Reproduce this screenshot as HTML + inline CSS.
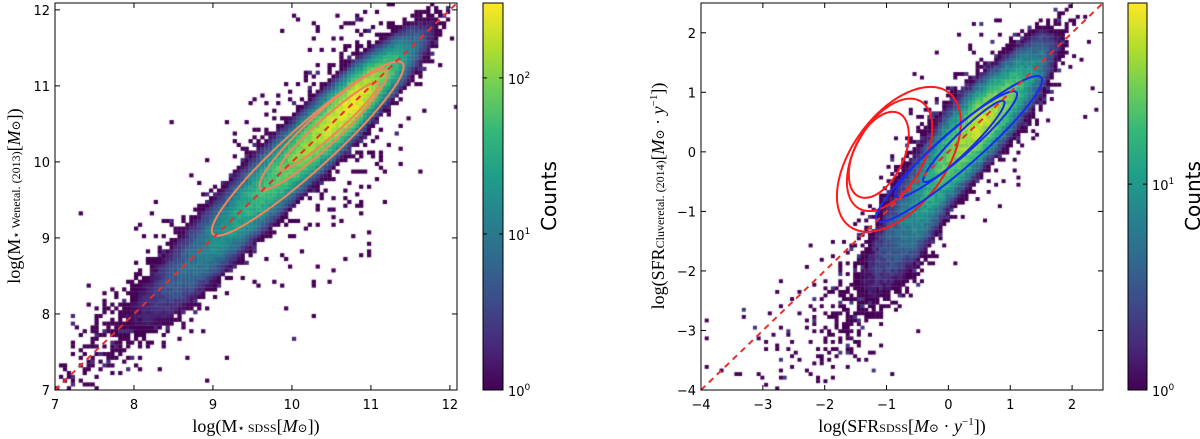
<!DOCTYPE html>
<html><head><meta charset="utf-8">
<style>
body{margin:0;background:#fff;width:1200px;height:439px;overflow:hidden;position:relative;font-family:"DejaVu Sans","Liberation Sans",sans-serif}
canvas,svg{position:absolute;left:0;top:0}
</style></head><body>
<canvas id="cv" width="1200" height="439"></canvas>
<svg id="sv" width="1200" height="439"></svg>
<script>
// ---- Left panel data ----
const leftRidgeX=[6.8,7,7.5,8,8.5,9,9.5,10,10.5,10.8,11,11.3,11.6,12,12.3];
const leftRidgeC=[6.8,7,7.5,8,8.45,8.95,9.5,10.0,10.5,10.8,11.0,11.28,11.55,11.9,12.2];
const leftRidgeLogA=[-1.5,-0.9,-0.4,0.1,0.7,1.2,1.6,1.95,2.3,2.45,2.25,1.7,0.8,-0.6,-2];
const leftRidgeS=[0.35,0.35,0.33,0.3,0.27,0.24,0.22,0.2,0.18,0.17,0.16,0.16,0.17,0.2,0.2];
const leftContours=[[9.0,9.05,11.4,11.3,0.28],[9.6,9.65,11.2,11.2,0.2],[9.85,9.9,11.1,11.05,0.12]];
// ---- Right panel data ----
const rightRidgeX=[-4,-3,-2,-1.5,-1,-0.5,0,0.5,1,1.5,2,2.5];
const rightRidgeC=[-4,-3.6,-3.0,-2.4,-1.6,-0.9,-0.1,0.45,0.95,1.5,2.0,2.4];
const rightRidgeLogA=[-2,-1.2,-0.5,-0.1,0.5,1.0,1.45,1.75,1.45,0.8,-0.4,-2];
const rightRidgeS=[0.5,0.5,0.5,0.5,0.5,0.45,0.35,0.3,0.3,0.3,0.3,0.3];
const redContours=[[-1.6,-1.25,0.0,1.0,0.75],[-1.45,-0.95,-0.45,0.85,0.55],[-1.45,-0.75,-0.8,0.65,0.4]];
const blueContours=[[-1.15,-1.15,1.5,1.25,0.3],[-0.85,-0.75,1.1,1.0,0.22],[-0.4,-0.5,0.9,0.85,0.15]];
const leftTicks=["7","8","9","10","11","12"];
const rightXTicks=["−4","−3","−2","−1","0","1","2"];
const rightYTicks=["−4","−3","−2","−1","0","1","2"];

const P={
 L:{x0:55,x1:457,y0:3,y1:390,xmin:7,xmax:12.09,ymin:7,ymax:12.09,cb:[483,503],cbMax:2.48,bin:0.05},
 R:{x0:701,x1:1103,y0:3,y1:390,xmin:-4,xmax:2.5,ymin:-4,ymax:2.5,cb:[1128,1147],cbMax:1.88,bin:0.06}
};
function sx(p,v){return p.x0+(v-p.xmin)/(p.xmax-p.xmin)*(p.x1-p.x0);}
function sy(p,v){return p.y1-(v-p.ymin)/(p.ymax-p.ymin)*(p.y1-p.y0);}
function interp(xs,ys,x){if(x<=xs[0])return ys[0];for(let i=1;i<xs.length;i++)if(x<=xs[i]){const t=(x-xs[i-1])/(xs[i]-xs[i-1]);return ys[i-1]+t*(ys[i]-ys[i-1]);}return ys[ys.length-1];}
const VS=[[68,1,84],[72,40,120],[62,74,137],[49,104,142],[38,130,142],[31,158,137],[53,183,121],[109,205,89],[180,222,44],[253,231,37]];
function vir(t){t=Math.max(0,Math.min(1,t))*9;const i=Math.min(8,Math.floor(t)),f=t-i;const a=VS[i],b=VS[i+1];return `rgb(${Math.round(a[0]+(b[0]-a[0])*f)},${Math.round(a[1]+(b[1]-a[1])*f)},${Math.round(a[2]+(b[2]-a[2])*f)})`;}
function hash(i,j,k){let h=(i*374761393+j*668265263+k*2147483647)|0;h=(h^(h>>>13))*1274126177|0;h^=h>>>16;return (h>>>0)/4294967296;}
const ctx=document.getElementById('cv').getContext('2d');
function drawHist(p,RX,RC,RA,RS,seed,broad){
 const b=p.bin;
 for(let x=p.xmin;x<p.xmax;x+=b){for(let y=p.ymin;y<p.ymax;y+=b){
  const xc=x+b/2,yc=y+b/2;const c=interp(RX,RC,xc),s=interp(RX,RS,xc),A=Math.pow(10,interp(RX,RA,xc));
  const d=yc-c;let lam=A*Math.exp(-d*d/(2*s*s))+broad*Math.sqrt(A+0.5)*Math.exp(-d*d/(2*0.9*0.9));
  const i=Math.round(x/b*7)+1000,j=Math.round(y/b*7)+1000;const r=hash(i,j,seed);let cnt;
  if(lam<1){if(r<lam)cnt=1+(hash(i,j,seed+1)<0.15?1:0);else continue;}
  else{cnt=lam*(0.75+0.5*r);if(cnt<1)cnt=1;}
  ctx.fillStyle=vir(Math.log10(cnt)/p.cbMax);
  const px0=sx(p,x),px1=sx(p,x+b),py0=sy(p,y+b),py1=sy(p,y);
  ctx.fillRect(px0,py0,px1-px0+0.3,py1-py0+0.3);
 }}
}
ctx.save();ctx.beginPath();ctx.rect(P.L.x0,P.L.y0,P.L.x1-P.L.x0,P.L.y1-P.L.y0);ctx.clip();
drawHist(P.L,leftRidgeX,leftRidgeC,leftRidgeLogA,leftRidgeS,11,0.02);ctx.restore();
ctx.save();ctx.beginPath();ctx.rect(P.R.x0,P.R.y0,P.R.x1-P.R.x0,P.R.y1-P.R.y0);ctx.clip();
drawHist(P.R,rightRidgeX,rightRidgeC,rightRidgeLogA,rightRidgeS,23,0.03);ctx.restore();
// colorbars
for(const p of [P.L,P.R]){for(let y=p.y0;y<p.y1;y++){ctx.fillStyle=vir((p.y1-y)/(p.y1-p.y0));ctx.fillRect(p.cb[0],y,p.cb[1]-p.cb[0],1);}}

const NS='http://www.w3.org/2000/svg';const sv=document.getElementById('sv');
function el(tag,attrs,name,txt){const e=document.createElementNS(NS,tag);for(const k in attrs)e.setAttribute(k,attrs[k]);
 
 
 if(txt!==undefined)e.textContent=txt;sv.appendChild(e);return e;}
function ellipse(p,c,color,name){const [ax,ay,bx,by,hw]=c;const X1=sx(p,ax),Y1=sy(p,ay),X2=sx(p,bx),Y2=sy(p,by);
 const cx=(X1+X2)/2,cy=(Y1+Y2)/2,rx=Math.hypot(X2-X1,Y2-Y1)/2,ry=hw*(p.x1-p.x0)/(p.xmax-p.xmin);const ang=Math.atan2(Y2-Y1,X2-X1)*180/Math.PI;
 el('ellipse',{cx,cy,rx,ry,transform:`rotate(${ang} ${cx} ${cy})`,fill:'none',stroke:color,'stroke-width':2},name);}
leftContours.forEach((c,i)=>ellipse(P.L,c,'#f4845a','left-contour-'+i));
redContours.forEach((c,i)=>ellipse(P.R,c,'#ff1a1a','red-contour-'+i));
blueContours.forEach((c,i)=>ellipse(P.R,c,'#1a2cf0','blue-contour-'+i));
// one-to-one lines
el('line',{x1:sx(P.L,7),y1:sy(P.L,7),x2:sx(P.L,12.09),y2:sy(P.L,12.09),stroke:'#e8302a','stroke-width':2,'stroke-dasharray':'6,5'},'left-one-to-one-line');
el('line',{x1:sx(P.R,-4),y1:sy(P.R,-4),x2:sx(P.R,2.5),y2:sy(P.R,2.5),stroke:'#e8302a','stroke-width':2,'stroke-dasharray':'6,5'},'right-one-to-one-line');
function frame(p,pre,xt,xv,yt,yv){
 el('rect',{x:p.x0,y:p.y0,width:p.x1-p.x0,height:p.y1-p.y0,fill:'none',stroke:'#000','stroke-width':1},pre+'-frame');
 xt.forEach((t,i)=>{const x=sx(p,xv[i]);el('line',{x1:x,y1:p.y1,x2:x,y2:p.y1-5,stroke:'#000'},pre+'-xtick');el('line',{x1:x,y1:p.y0,x2:x,y2:p.y0+5,stroke:'#000'},pre+'-xtick-top');
  el('text',{x:x,y:p.y1+19,'text-anchor':'middle','font-size':13},pre+'-xtick-label',t);});
 yt.forEach((t,i)=>{const y=sy(p,yv[i]);el('line',{x1:p.x0,y1:y,x2:p.x0+5,y2:y,stroke:'#000'},pre+'-ytick');el('line',{x1:p.x1,y1:y,x2:p.x1-5,y2:y,stroke:'#000'},pre+'-ytick-right');
  el('text',{x:p.x0-5,y:y+5,'text-anchor':'end','font-size':13},pre+'-ytick-label',t);});
 el('rect',{x:p.cb[0],y:p.y0,width:p.cb[1]-p.cb[0],height:p.y1-p.y0,fill:'none',stroke:'#000'},pre+'-colorbar-frame');
}
frame(P.L,'left',leftTicks,[7,8,9,10,11,12],leftTicks,[7,8,9,10,11,12]);
frame(P.R,'right',rightXTicks,[-4,-3,-2,-1,0,1,2],rightYTicks,[-4,-3,-2,-1,0,1,2]);
function cbTicks(p,pre,n){for(let k=0;k<=n;k++){const y=p.y1-k/p.cbMax*(p.y1-p.y0);
 el('line',{x1:p.cb[0],y1:y,x2:p.cb[0]+4,y2:y,stroke:'#000'},pre+'-cb-tick');el('line',{x1:p.cb[1],y1:y,x2:p.cb[1]-4,y2:y,stroke:'#000'},pre+'-cb-tick');
 const t=el('text',{x:p.cb[1]+5,y:y+6,'font-size':13},pre+'-cb-label');t.innerHTML='10<tspan dy="-6" font-size="9">'+k+'</tspan>';}}
cbTicks(P.L,'left',2);cbTicks(P.R,'right',1);
el('text',{x:556,y:196,'font-size':20,transform:'rotate(-90 556 196)','text-anchor':'middle'},'left-colorbar-title','Counts');
el('text',{x:1200,y:196,'font-size':20,transform:'rotate(-90 1200 196)','text-anchor':'middle'},'right-colorbar-title','Counts');
const serif='font-family:"Liberation Serif","DejaVu Serif",serif';
let t=el('text',{x:256,y:432,'font-size':18,'text-anchor':'middle',style:serif},'left-x-axis-title');t.innerHTML='log(M<tspan font-size="12">⋆ SDSS</tspan>[<tspan font-style="italic">M</tspan><tspan font-size="12">⊙</tspan>])';
t=el('text',{x:20,y:196,'font-size':18,'text-anchor':'middle',style:serif,transform:'rotate(-90 20 196)'},'left-y-axis-title');t.innerHTML='log(M<tspan font-size="12">⋆ Wenetal. (2013)</tspan>[<tspan font-style="italic">M</tspan><tspan font-size="12">⊙</tspan>])';
t=el('text',{x:902,y:432,'font-size':18,'text-anchor':'middle',style:serif},'right-x-axis-title');t.innerHTML='log(SFR<tspan font-size="12">SDSS</tspan>[<tspan font-style="italic">M</tspan><tspan font-size="12">⊙</tspan> · <tspan font-style="italic">y</tspan><tspan font-size="11" dy="-7">−1</tspan><tspan dy="7">])</tspan>';
t=el('text',{x:664,y:196,'font-size':18,'text-anchor':'middle',style:serif,transform:'rotate(-90 664 196)'},'right-y-axis-title');t.innerHTML='log(SFR<tspan font-size="12">Cluveretal. (2014)</tspan>[<tspan font-style="italic">M</tspan><tspan font-size="12">⊙</tspan> · <tspan font-style="italic">y</tspan><tspan font-size="11" dy="-7">−1</tspan><tspan dy="7">])</tspan>';
</script>
</body></html>
